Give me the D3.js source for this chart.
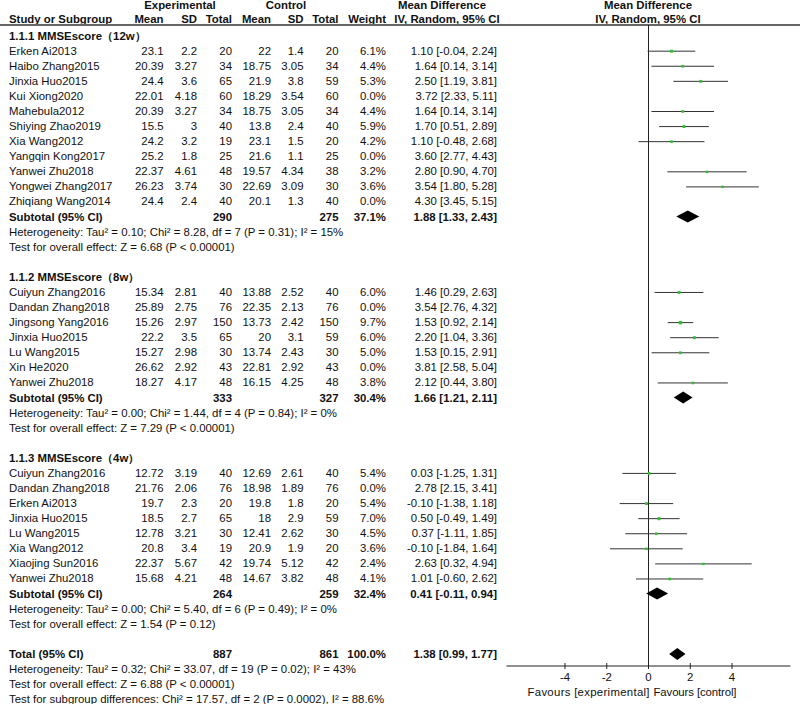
<!DOCTYPE html>
<html><head><meta charset="utf-8">
<script src="https://cdn.jsdelivr.net/npm/d3@7/dist/d3.min.js"></script>
<style>body{margin:0;background:#fff}svg{display:block}text{font-family:Arial,"Liberation Sans",sans-serif;font-size:11.4px;fill:#111}</style>
</head><body><svg id="c" width="800" height="704"></svg>
<script>
// ---- data ----
const groupTitles = ["1.1.1 MMSEscore（12w）", "1.1.2 MMSEscore（8w）", "1.1.3 MMSEscore（4w）"];
const studies12 = ["Erken Ai2013","Haibo Zhang2015","Jinxia Huo2015","Kui Xiong2020","Mahebula2012","Shiying Zhao2019","Xia Wang2012","Yangqin Kong2017","Yanwei Zhu2018","Yongwei Zhang2017","Zhiqiang Wang2014"];
const expMean12 = ["23.1","20.39","24.4","22.01","20.39","15.5","24.2","25.2","22.37","26.23","24.4"];
const expSD12 = ["2.2","3.27","3.6","4.18","3.27","3","3.2","1.8","4.61","3.74","2.4"];
const expN12 = [20,34,65,60,34,40,19,25,48,30,40];
const ctlMean12 = ["22","18.75","21.9","18.29","18.75","13.8","23.1","21.6","19.57","22.69","20.1"];
const ctlSD12 = ["1.4","3.05","3.8","3.54","3.05","2.4","1.5","1.1","4.34","3.09","1.3"];
const ctlN12 = [20,34,59,60,34,40,20,25,38,30,40];
const weight12 = [6.1,4.4,5.3,0.0,4.4,5.9,4.2,0.0,3.2,3.6,0.0];
const md12 = [1.10,1.64,2.50,3.72,1.64,1.70,1.10,3.60,2.80,3.54,4.30];
const lo12 = [-0.04,0.14,1.19,2.33,0.14,0.51,-0.48,2.77,0.90,1.80,3.45];
const hi12 = [2.24,3.14,3.81,5.11,3.14,2.89,2.68,4.43,4.70,5.28,5.15];

const studies8 = ["Cuiyun Zhang2016","Dandan Zhang2018","Jingsong Yang2016","Jinxia Huo2015","Lu Wang2015","Xin He2020","Yanwei Zhu2018"];
const expMean8 = ["15.34","25.89","15.26","22.2","15.27","26.62","18.27"];
const expSD8 = ["2.81","2.75","2.97","3.5","2.98","2.92","4.17"];
const expN8 = [40,76,150,65,30,43,48];
const ctlMean8 = ["13.88","22.35","13.73","20","13.74","22.81","16.15"];
const ctlSD8 = ["2.52","2.13","2.42","3.1","2.43","2.92","4.25"];
const ctlN8 = [40,76,150,59,30,43,48];
const weight8 = [6.0,0.0,9.7,6.0,5.0,0.0,3.8];
const md8 = [1.46,3.54,1.53,2.20,1.53,3.81,2.12];
const lo8 = [0.29,2.76,0.92,1.04,0.15,2.58,0.44];
const hi8 = [2.63,4.32,2.14,3.36,2.91,5.04,3.80];

const studies4 = ["Cuiyun Zhang2016","Dandan Zhang2018","Erken Ai2013","Jinxia Huo2015","Lu Wang2015","Xia Wang2012","Xiaojing Sun2016","Yanwei Zhu2018"];
const expMean4 = ["12.72","21.76","19.7","18.5","12.78","20.8","22.37","15.68"];
const expSD4 = ["3.19","2.06","2.3","2.7","3.21","3.4","5.67","4.21"];
const expN4 = [40,76,20,65,30,19,42,48];
const ctlMean4 = ["12.69","18.98","19.8","18","12.41","20.9","19.74","14.67"];
const ctlSD4 = ["2.61","1.89","1.8","2.9","2.62","1.9","5.12","3.82"];
const ctlN4 = [40,76,20,59,30,20,42,48];
const weight4 = [5.4,0.0,5.4,7.0,4.5,3.6,2.4,4.1];
const md4 = [0.03,2.78,-0.10,0.50,0.37,-0.10,2.63,1.01];
const lo4 = [-1.25,2.15,-1.38,-0.49,-1.11,-1.84,0.32,-0.60];
const hi4 = [1.31,3.41,1.18,1.49,1.85,1.64,4.94,2.62];

const subExpN = [290,333,264];
const subCtlN = [275,327,259];
const subWeight = [37.1,30.4,32.4];
const subMd = [1.88,1.66,0.41];
const subLo = [1.33,1.21,-0.11];
const subHi = [2.43,2.11,0.94];
const subHet = ["Heterogeneity: Tau² = 0.10; Chi² = 8.28, df = 7 (P = 0.31); I² = 15%",
                "Heterogeneity: Tau² = 0.00; Chi² = 1.44, df = 4 (P = 0.84); I² = 0%",
                "Heterogeneity: Tau² = 0.00; Chi² = 5.40, df = 6 (P = 0.49); I² = 0%"];
const subTest = ["Test for overall effect: Z = 6.68 (P < 0.00001)",
                 "Test for overall effect: Z = 7.29 (P < 0.00001)",
                 "Test for overall effect: Z = 1.54 (P = 0.12)"];
const totalExpN = 887, totalCtlN = 861, totalWeight = 100.0;
const totalMd = 1.38, totalLo = 0.99, totalHi = 1.77;
const totalNotes = ["Heterogeneity: Tau² = 0.32; Chi² = 33.07, df = 19 (P = 0.02); I² = 43%",
                    "Test for overall effect: Z = 6.88 (P < 0.00001)",
                    "Test for subgroup differences: Chi² = 17.57, df = 2 (P = 0.0002), I² = 88.6%"];
const axisTicks = [-4,-2,0,2,4];
const favourLabels = ["Favours [experimental]", "Favours [control]"];

// ---- build rows ----
const groups = [
  {s:studies12,em:expMean12,es:expSD12,en:expN12,cm:ctlMean12,cs:ctlSD12,cn:ctlN12,w:weight12,md:md12,lo:lo12,hi:hi12},
  {s:studies8,em:expMean8,es:expSD8,en:expN8,cm:ctlMean8,cs:ctlSD8,cn:ctlN8,w:weight8,md:md8,lo:lo8,hi:hi8},
  {s:studies4,em:expMean4,es:expSD4,en:expN4,cm:ctlMean4,cs:ctlSD4,cn:ctlN4,w:weight4,md:md4,lo:lo4,hi:hi4}
];
const rows = [];
groups.forEach((g,gi)=>{
  rows.push({type:"title",label:groupTitles[gi]});
  g.s.forEach((name,i)=>rows.push({type:"study",label:name,em:g.em[i],es:g.es[i],en:g.en[i],cm:g.cm[i],cs:g.cs[i],cn:g.cn[i],w:g.w[i],md:g.md[i],lo:g.lo[i],hi:g.hi[i]}));
  rows.push({type:"sub",label:"Subtotal (95% CI)",en:subExpN[gi],cn:subCtlN[gi],w:subWeight[gi],md:subMd[gi],lo:subLo[gi],hi:subHi[gi]});
  rows.push({type:"note",label:subHet[gi]});
  rows.push({type:"note",label:subTest[gi]});
  rows.push({type:"blank"});
});
rows.push({type:"sub",label:"Total (95% CI)",en:totalExpN,cn:totalCtlN,w:totalWeight,md:totalMd,lo:totalLo,hi:totalHi});
totalNotes.forEach(t=>rows.push({type:"note",label:t}));

const svg = d3.select("#c");
const y = d3.scaleLinear().domain([0,1]).range([35.6,35.6+15.08]);
const x = d3.scaleLinear().domain([-6.8,6.8]).range([506.5,790.5]);
const loc = d3.formatLocale({decimal:".",thousands:",",grouping:[3],currency:["",""],minus:"-"});
const fmt2 = loc.format(".2f");
const fmtCI = r => `${fmt2(r.md)} [${fmt2(r.lo)}, ${fmt2(r.hi)}]`;

// header
const hdr = svg.append("g").style("font-weight","bold");
hdr.append("text").attr("x",180).attr("y",5).attr("dy","0.35em").attr("text-anchor","middle").text("Experimental");
hdr.append("text").attr("x",286).attr("y",5).attr("dy","0.35em").attr("text-anchor","middle").text("Control");
hdr.append("text").attr("x",442).attr("y",5).attr("dy","0.35em").attr("text-anchor","middle").text("Mean Difference");
hdr.append("text").attr("x",648).attr("y",5).attr("dy","0.35em").attr("text-anchor","middle").text("Mean Difference");
const hy = 19;
hdr.append("text").attr("x",9).attr("y",hy).attr("dy","0.35em").text("Study or Subgroup");
const colX = {em:163.5,es:197,en:232,cm:271,cs:303.5,cn:338.5,w:386,ci:497};
[["em","Mean"],["es","SD"],["en","Total"],["cm","Mean"],["cs","SD"],["cn","Total"],["w","Weight"]].forEach(([k,t])=>
  hdr.append("text").attr("x",colX[k]).attr("y",hy).attr("dy","0.35em").attr("text-anchor","end").text(t));
hdr.append("text").attr("x",447).attr("y",hy).attr("dy","0.35em").attr("text-anchor","middle").text("IV, Random, 95% CI");
hdr.append("text").attr("x",648).attr("y",hy).attr("dy","0.35em").attr("text-anchor","middle").text("IV, Random, 95% CI");
svg.append("line").attr("x1",0).attr("x2",800).attr("y1",25).attr("y2",25).attr("stroke","#666").attr("stroke-width",2);

// zero line
svg.append("line").attr("x1",x(0)).attr("x2",x(0)).attr("y1",25).attr("y2",666).attr("stroke","#222").attr("stroke-width",1);

// rows
rows.forEach((r,i)=>{
  const yy = y(i);
  if(r.type==="blank") return;
  const g = svg.append("g");
  const bold = (r.type==="title"||r.type==="sub");
  g.append("text").attr("x",9).attr("y",yy).attr("dy","0.35em").style("font-weight",bold?"bold":"normal").text(r.label);
  if(r.type==="study"){
    ["em","es","en","cm","cs","cn"].forEach(k=>g.append("text").attr("x",colX[k]).attr("y",yy).attr("dy","0.35em").attr("text-anchor","end").text(r[k]));
    g.append("text").attr("x",colX.w).attr("y",yy).attr("dy","0.35em").attr("text-anchor","end").text(r.w.toFixed(1)+"%");
    g.append("text").attr("x",colX.ci).attr("y",yy).attr("dy","0.35em").attr("text-anchor","end").text(fmtCI(r));
    if(r.w>0){
      g.append("line").attr("x1",x(r.lo)).attr("x2",x(r.hi)).attr("y1",yy+0.5).attr("y2",yy+0.5).attr("stroke","#333").attr("stroke-width",1);
      const s = 2 + r.w*0.15;
      g.append("rect").attr("x",x(r.md)-s/2).attr("y",yy+0.5-s/2).attr("width",s).attr("height",s).attr("fill","#2fc12f");
    }
  } else if(r.type==="sub"){
    const b = g.append("g").style("font-weight","bold");
    b.append("text").attr("x",colX.en).attr("y",yy).attr("dy","0.35em").attr("text-anchor","end").text(r.en);
    b.append("text").attr("x",colX.cn).attr("y",yy).attr("dy","0.35em").attr("text-anchor","end").text(r.cn);
    b.append("text").attr("x",colX.w).attr("y",yy).attr("dy","0.35em").attr("text-anchor","end").text(r.w.toFixed(1)+"%");
    b.append("text").attr("x",colX.ci).attr("y",yy).attr("dy","0.35em").attr("text-anchor","end").text(fmtCI(r));
    const h = 6;
    g.append("path").attr("d",`M${x(r.lo)},${yy}L${x(r.md)},${yy-h}L${x(r.hi)},${yy}L${x(r.md)},${yy+h}Z`).attr("fill","#000");
  }
});

// axis
const ay = 666;
svg.append("line").attr("x1",x.range()[0]).attr("x2",x.range()[1]).attr("y1",ay).attr("y2",ay).attr("stroke","#222");
axisTicks.forEach(t=>{
  svg.append("line").attr("x1",x(t)).attr("x2",x(t)).attr("y1",ay-3).attr("y2",ay+3).attr("stroke","#222");
  svg.append("text").attr("x",x(t)).attr("y",677).attr("dy","0.35em").attr("text-anchor","middle").text(loc.format("d")(t));
});
svg.append("text").attr("x",x(0)+1).attr("y",692).attr("dy","0.35em").attr("text-anchor","end").attr("textLength",122).text(favourLabels[0]);
svg.append("text").attr("x",x(0)+5).attr("y",692).attr("dy","0.35em").attr("text-anchor","start").attr("textLength",83).text(favourLabels[1]);
</script></body></html>
